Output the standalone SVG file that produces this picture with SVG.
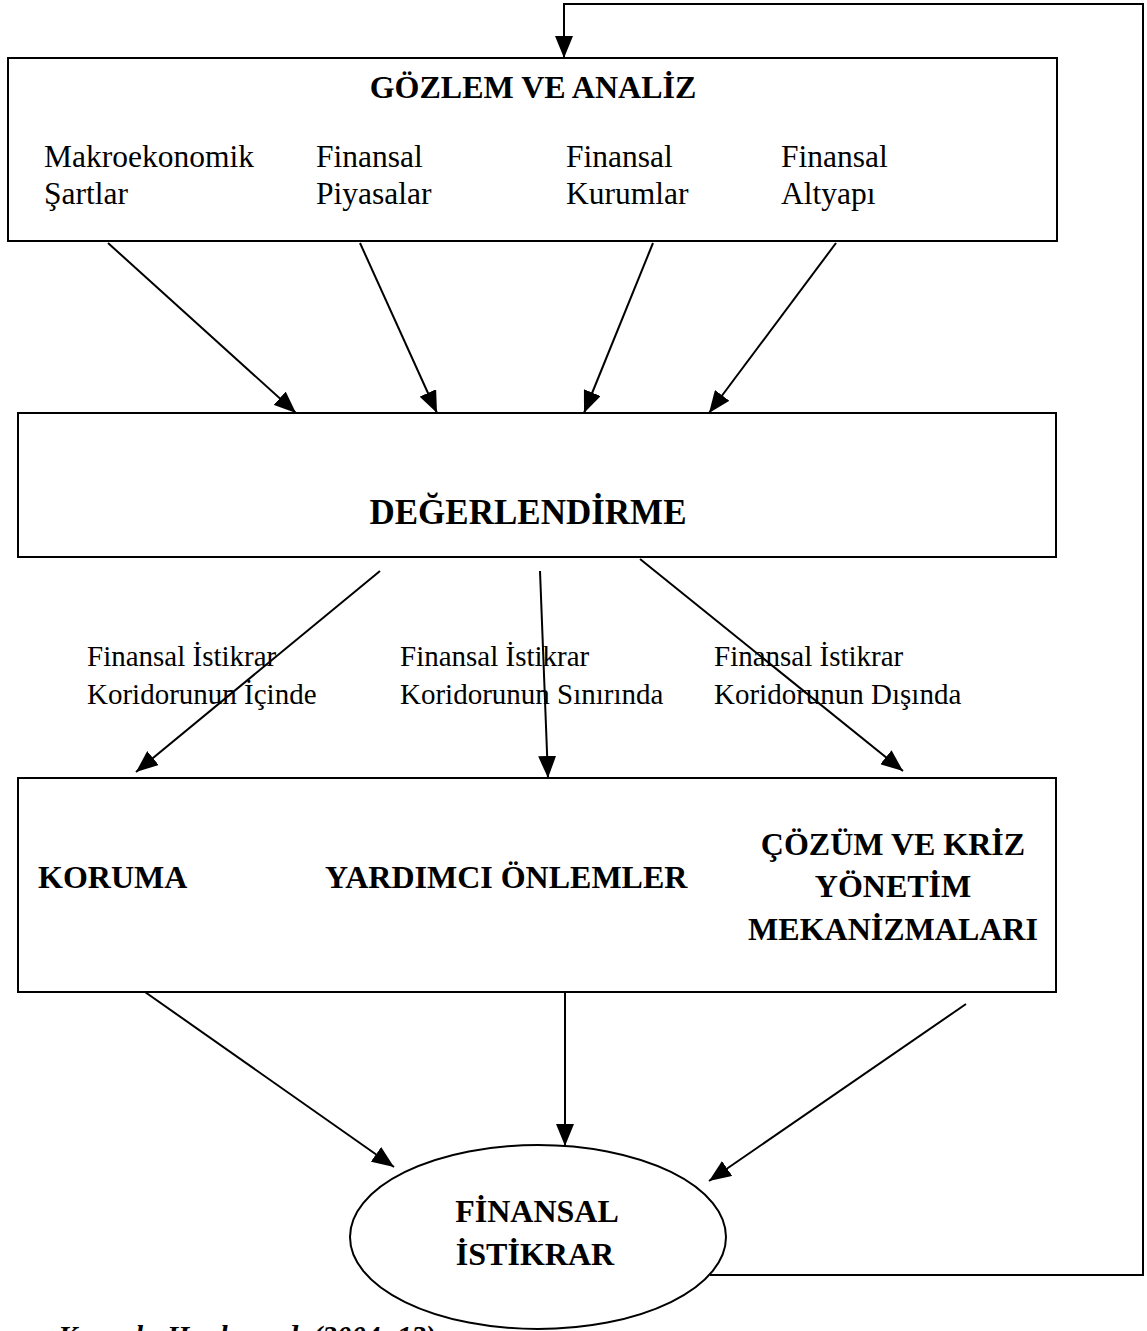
<svg xmlns="http://www.w3.org/2000/svg" width="1147" height="1331" viewBox="0 0 1147 1331">
<style>
.box{fill:#fff;stroke:#000;stroke-width:2}
.ln{fill:none;stroke:#000;stroke-width:2}
.t{font-family:"Liberation Serif","Times New Roman",serif;font-size:29px;fill:#000}
.tt{font-family:"Liberation Serif","Times New Roman",serif;font-size:31.5px;fill:#000}
.b{font-family:"Liberation Serif","Times New Roman",serif;font-size:32px;font-weight:bold;fill:#000}
.bl{font-family:"Liberation Serif","Times New Roman",serif;font-size:35px;font-weight:bold;fill:#000}
</style>
<defs>
<marker id="ah" markerUnits="userSpaceOnUse" markerWidth="24" markerHeight="18" refX="22" refY="9" orient="auto">
<path d="M0,0 L22,9 L0,18 Z" fill="#000"/>
</marker>
</defs>
<rect width="1147" height="1331" fill="#fff"/>
<g id="gozlem">
<rect class="box" x="8" y="58" width="1049" height="183"/>
<text class="b" x="533" y="98" text-anchor="middle">GÖZLEM VE ANALİZ</text>
<text class="tt" x="44" y="167">Makroekonomik</text>
<text class="tt" x="44" y="204">Şartlar</text>
<text class="tt" x="316" y="167">Finansal</text>
<text class="tt" x="316" y="204">Piyasalar</text>
<text class="tt" x="566" y="167">Finansal</text>
<text class="tt" x="566" y="204">Kurumlar</text>
<text class="tt" x="781" y="167">Finansal</text>
<text class="tt" x="781" y="204">Altyapı</text>
</g>
<g id="degerlendirme">
<rect class="box" x="18" y="413" width="1038" height="144"/>
<text class="bl" x="528" y="524" text-anchor="middle">DEĞERLENDİRME</text>
</g>
<g id="onlemler">
<rect class="box" x="18" y="778" width="1038" height="214"/>
<text class="b" x="38" y="888">KORUMA</text>
<text class="b" x="325" y="888">YARDIMCI ÖNLEMLER</text>
<text class="b" x="893" y="855" text-anchor="middle">ÇÖZÜM VE KRİZ</text>
<text class="b" x="893" y="897" text-anchor="middle">YÖNETİM</text>
<text class="b" x="893" y="940" text-anchor="middle">MEKANİZMALARI</text>
</g>
<g id="istikrar">
<ellipse class="box" cx="538" cy="1237" rx="188" ry="92"/>
<text class="b" x="537" y="1222" text-anchor="middle">FİNANSAL</text>
<text class="b" x="535" y="1265" text-anchor="middle">İSTİKRAR</text>
</g>
<g id="connectors" class="ln">
<line x1="108" y1="243" x2="296" y2="413" marker-end="url(#ah)"/>
<line x1="360" y1="243" x2="437" y2="413" marker-end="url(#ah)"/>
<line x1="653" y1="243" x2="584" y2="413" marker-end="url(#ah)"/>
<line x1="836" y1="243" x2="709" y2="413" marker-end="url(#ah)"/>
<line x1="380" y1="571" x2="136" y2="772" marker-end="url(#ah)"/>
<line x1="540" y1="571" x2="548" y2="778" marker-end="url(#ah)"/>
<line x1="640" y1="559" x2="903" y2="771" marker-end="url(#ah)"/>
<line x1="145" y1="992" x2="394" y2="1167" marker-end="url(#ah)"/>
<line x1="565" y1="992" x2="565" y2="1146" marker-end="url(#ah)"/>
<line x1="966" y1="1004" x2="709" y2="1181" marker-end="url(#ah)"/>
<polyline points="710,1275 1143,1275 1143,4 564,4 564,58" marker-end="url(#ah)"/>
</g>
<g id="labels">
<text class="t" x="87" y="666">Finansal İstikrar</text>
<text class="t" x="87" y="704">Koridorunun İçinde</text>
<text class="t" x="400" y="666">Finansal İstikrar</text>
<text class="t" x="400" y="704">Koridorunun Sınırında</text>
<text class="t" x="714" y="666">Finansal İstikrar</text>
<text class="t" x="714" y="704">Koridorunun Dışında</text>
</g>
<text class="t" x="58" y="1346" font-weight="bold" font-style="italic">Kaynak: Houben vd. (2004: 13)</text>
</svg>
